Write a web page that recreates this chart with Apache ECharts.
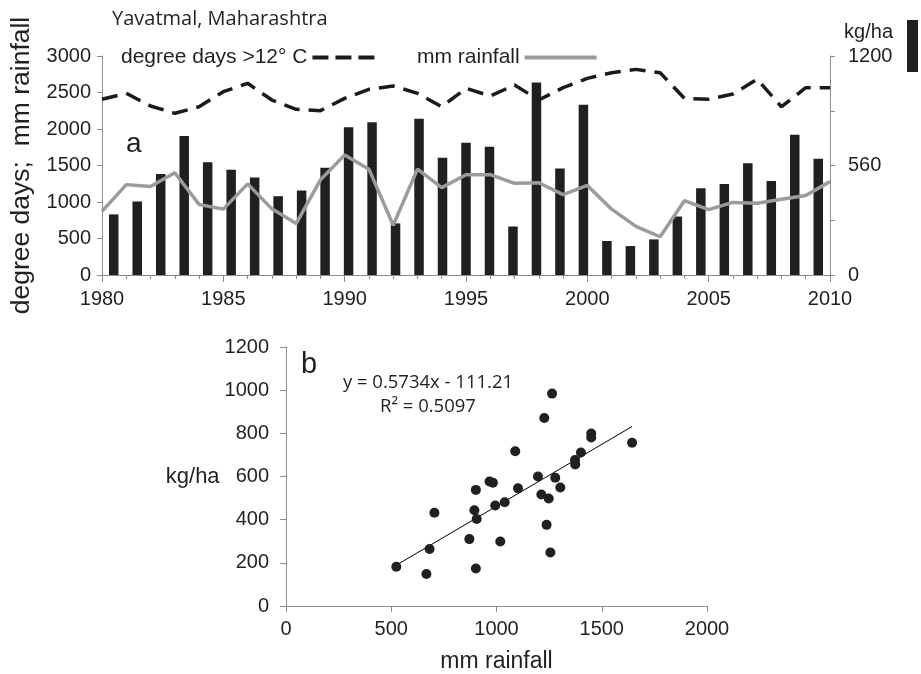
<!DOCTYPE html>
<html>
<head>
<meta charset="utf-8">
<script src="https://cdn.jsdelivr.net/npm/echarts@6/dist/echarts.min.js"></script>
<style>
html,body{margin:0;padding:0;background:#fff;}
#chart{width:921px;height:674px;}
</style>
</head>
<body>
<div id="chart"></div>
<script>
// ---- data ----
const years = [1980,1981,1982,1983,1984,1985,1986,1987,1988,1989,1990,1991,1992,1993,1994,1995,1996,1997,1998,1999,2000,2001,2002,2003,2004,2005,2006,2007,2008,2009,2010];
const degreeDays = [2407,2489,2315,2215,2305,2511,2626,2397,2270,2251,2420,2544,2589,2489,2305,2557,2452,2603,2397,2566,2694,2771,2817,2771,2420,2407,2479,2681,2305,2566,2566];
const rainfall = [871,1238,1213,1401,967,902,1248,906,705,1303,1644,1450,682,1450,1197,1373,1374,1256,1264,1102,1227,902,667,524,1018,895,994,983,1039,1089,1279];
const yieldKgHa = [310,376,517,711,577,538,498,403,432,549,756,781,264,799,600,676,656,248,984,545,871,174,148,182,299,444,466,571,481,717,594];
const rightTickLabels = ['0','','560','','1200'];
const trendSlope = 0.5734;
const trendIntercept = -111.21;
const equationText = 'y = 0.5734x - 111.21';
const r2Text = 'R² = 0.5097';

const axisGrey = '#8c8c8c';
const ink = '#231f20';
const FONT = '"Liberation Sans", Arial, sans-serif';
const plain = (v) => String(v);

const linePts = (vals) => years.map((y, i) => [y, vals[i]]);
const scatterPts = rainfall.map((r, i) => [r, yieldKgHa[i]]);
const xMin = Math.min(...rainfall), xMax = Math.max(...rainfall);
const trendPts = [[xMin, trendSlope * xMin + trendIntercept], [xMax, trendSlope * xMax + trendIntercept]];

const chart = echarts.init(document.getElementById('chart'));
const axisCommon = {
  axisLine: {show: true, lineStyle: {color: axisGrey, width: 1}},
  axisTick: {show: true, length: 5, lineStyle: {color: axisGrey}},
  splitLine: {show: false}
};
const lbl = (margin, extra) => Object.assign({fontSize: 20, color: ink, fontFamily: FONT, margin: margin, formatter: plain}, extra || {});

chart.setOption({
  animation: false,
  textStyle: {fontFamily: FONT},
  grid: [
    {left: 102, right: 91, top: 56, height: 219},
    {left: 286, top: 347, width: 421, height: 259}
  ],
  legend: [
    {data: ['degree days >12° C'], left: 121, top: 47, padding: 0, align: 'right', itemWidth: 62, itemHeight: 14,
     itemStyle: {opacity: 0},
     lineStyle: {width: 4, type: [16, 7], color: '#1a1a1a'},
     textStyle: {fontSize: 21, color: ink, fontFamily: FONT}},
    {data: ['mm rainfall'], left: 417, top: 47, padding: 0, align: 'right', itemWidth: 72, itemHeight: 14,
     itemStyle: {opacity: 0},
     lineStyle: {width: 4, color: '#9b9b9b'},
     textStyle: {fontSize: 21, color: ink, fontFamily: FONT}},
    {data: [{name: 'kg/ha', icon: 'rect'}], right: 3, top: 18, padding: 0, align: 'right', itemWidth: 11, itemHeight: 52,
     formatter: (n) => n + '\n ',
     textStyle: {fontSize: 20, lineHeight: 28, color: ink, fontFamily: FONT, padding: [0, 9, 0, 0]}}
  ],
  xAxis: [
    {type: 'category', gridIndex: 0, position: 'top', data: years.map(String), boundaryGap: true, show: false},
    Object.assign({}, axisCommon, {
      type: 'value', gridIndex: 0, position: 'bottom', min: 1980, max: 2010, interval: 5,
      axisTick: {show: true, length: 7, lineStyle: {color: axisGrey}},
      minorTick: {show: true, splitNumber: 5, length: 4, lineStyle: {color: axisGrey}},
      minorSplitLine: {show: false},
      axisLabel: lbl(14)
    }),
    Object.assign({}, axisCommon, {
      type: 'value', gridIndex: 1, position: 'bottom', min: 0, max: 2000, interval: 500,
      axisTick: {show: true, length: 6, lineStyle: {color: axisGrey}},
      axisLabel: lbl(13),
      name: 'mm rainfall', nameLocation: 'middle', nameGap: 44,
      nameTextStyle: {fontSize: 23, color: ink, fontFamily: FONT}
    })
  ],
  yAxis: [
    Object.assign({}, axisCommon, {
      type: 'value', gridIndex: 0, position: 'left', min: 0, max: 3000, interval: 500,
      axisLabel: lbl(11),
      name: 'degree days;  mm rainfall', nameLocation: 'middle', nameGap: 58,
      nameTextStyle: {fontSize: 26.5, color: ink, fontFamily: FONT}
    }),
    Object.assign({}, axisCommon, {
      type: 'value', gridIndex: 0, position: 'right', min: 0, max: 1120, interval: 280,
      axisLabel: lbl(18, {formatter: (v, i) => rightTickLabels[i] || ''})
    }),
    Object.assign({}, axisCommon, {
      type: 'value', gridIndex: 1, position: 'left', min: 0, max: 1200, interval: 200,
      axisTick: {show: true, length: 6, lineStyle: {color: axisGrey}},
      axisLabel: lbl(17),
      name: 'kg/ha', nameLocation: 'middle', nameRotate: 0, nameGap: 63,
      nameTextStyle: {fontSize: 22, color: ink, fontFamily: FONT}
    })
  ],
  series: [
    {name: 'kg/ha', type: 'bar', xAxisIndex: 0, yAxisIndex: 1, data: yieldKgHa, barWidth: 9.5,
     itemStyle: {color: ink}},
    {name: 'degree days >12° C', type: 'line', xAxisIndex: 1, yAxisIndex: 0, data: linePts(degreeDays),
     symbol: 'none', lineStyle: {color: '#1a1a1a', width: 3.5, type: [16, 9]}, itemStyle: {color: '#1a1a1a'}},
    {name: 'mm rainfall', type: 'line', xAxisIndex: 1, yAxisIndex: 0, data: linePts(rainfall),
     symbol: 'none', lineStyle: {color: '#9b9b9b', width: 3.5}, itemStyle: {color: '#9b9b9b'}},
    {name: 'trend', type: 'line', xAxisIndex: 2, yAxisIndex: 2, data: trendPts, symbol: 'none',
     lineStyle: {color: '#000', width: 1}, z: 1},
    {name: 'yield vs rainfall', type: 'scatter', xAxisIndex: 2, yAxisIndex: 2, data: scatterPts,
     symbolSize: 10, itemStyle: {color: ink, opacity: 1}, z: 3}
  ],
  graphic: [
    {type: 'text', left: 112, top: 9, style: {text: 'Yavatmal, Maharashtra', font: '20px "Open Sans", sans-serif', fill: ink}},
    {type: 'text', left: 126, top: 130, style: {text: 'a', font: '28px "Liberation Sans", Arial, sans-serif', fill: ink}},
    {type: 'text', left: 301, top: 350, style: {text: 'b', font: '29px "Liberation Sans", Arial, sans-serif', fill: ink}},
    {type: 'text', x: 428, y: 383, style: {text: equationText, font: '18.5px "Open Sans", sans-serif', fill: ink, align: 'center', verticalAlign: 'middle'}},
    {type: 'text', x: 428, y: 407, style: {text: r2Text, font: '18.5px "Open Sans", sans-serif', fill: ink, align: 'center', verticalAlign: 'middle'}}
  ]
});
</script>
</body>
</html>
